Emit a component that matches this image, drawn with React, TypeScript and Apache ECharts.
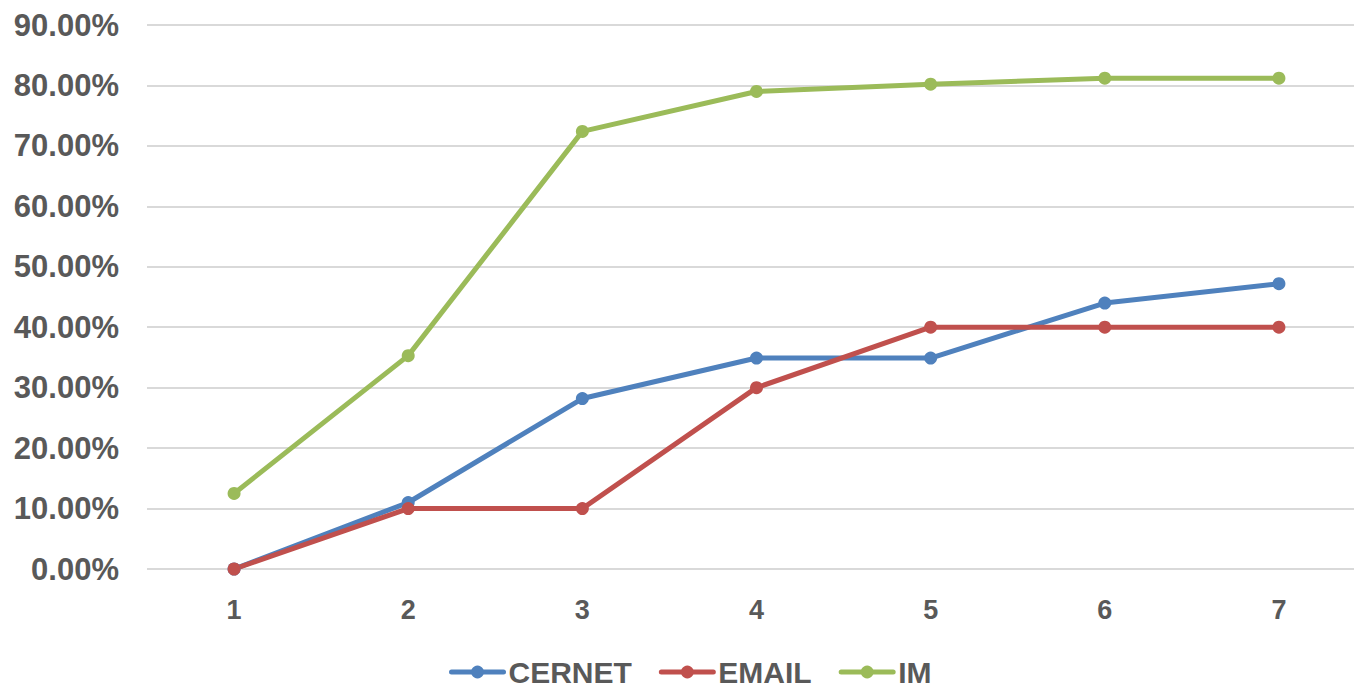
import React, { useEffect, useRef } from "react";
import * as echarts from "echarts";

// Category labels along the x axis
const categories = ["1", "2", "3", "4", "5", "6", "7"];

// Series values, in percent
const cernet = [0, 11.0, 28.2, 34.9, 34.9, 44.0, 47.2];
const email = [0, 10, 10, 30, 40, 40, 40];
const im = [12.5, 35.3, 72.4, 79.0, 80.2, 81.2, 81.2];

const seriesNames = ["CERNET", "EMAIL", "IM"];
const seriesColors = ["#4F81BD", "#C0504D", "#9BBB59"];

const FONT = "'Liberation Sans', Arial, sans-serif";
const TEXT_COLOR = "#595959";

// The plot area runs a little past the right edge of the visible frame,
// so the chart canvas is wider than the clipping wrapper.
const VIEW_W = 1354;
const VIEW_H = 686;
const CANVAS_W = 1380;

export default function App() {
  const ref = useRef<HTMLDivElement>(null);

  useEffect(() => {
    if (!ref.current) return;
    const chart = echarts.init(ref.current, undefined, { renderer: "svg" });
    const values = [cernet, email, im];

    chart.setOption({
      animation: false,
      backgroundColor: "#ffffff",
      grid: { left: 147, top: 25, width: 1219, height: 544, containLabel: false },
      legend: {
        data: seriesNames,
        top: 652,
        left: 444,
        itemWidth: 52,
        itemHeight: 16,
        itemGap: 27,
        lineStyle: { width: 5, cap: "round" },
        textStyle: {
          fontFamily: FONT,
          fontWeight: "bold",
          fontSize: 30,
          color: TEXT_COLOR,
        },
      },
      xAxis: {
        type: "category",
        data: categories,
        boundaryGap: true,
        axisLine: { show: false },
        axisTick: { show: false },
        axisLabel: {
          margin: 27,
          fontFamily: FONT,
          fontWeight: "bold",
          fontSize: 27,
          color: TEXT_COLOR,
        },
      },
      yAxis: {
        type: "value",
        min: 0,
        max: 90,
        interval: 10,
        axisLine: { show: false },
        axisTick: { show: false },
        splitLine: { lineStyle: { color: "#D9D9D9", width: 2 } },
        axisLabel: {
          margin: 28,
          fontFamily: FONT,
          fontWeight: "bold",
          fontSize: 31,
          color: TEXT_COLOR,
          formatter: (v: number) => v.toFixed(2) + "%",
        },
      },
      series: seriesNames.map((name, i) => ({
        name,
        type: "line",
        data: values[i],
        symbol: "circle",
        symbolSize: 13,
        color: seriesColors[i],
        itemStyle: { color: seriesColors[i] },
        lineStyle: { width: 5, color: seriesColors[i], cap: "round", join: "round" },
      })),
    });

    return () => chart.dispose();
  }, []);

  return (
    <div
      style={{
        position: "absolute",
        left: 0,
        top: 0,
        width: VIEW_W,
        height: VIEW_H,
        overflow: "hidden",
        background: "#ffffff",
      }}
    >
      <div ref={ref} style={{ width: CANVAS_W, height: VIEW_H }} />
    </div>
  );
}
